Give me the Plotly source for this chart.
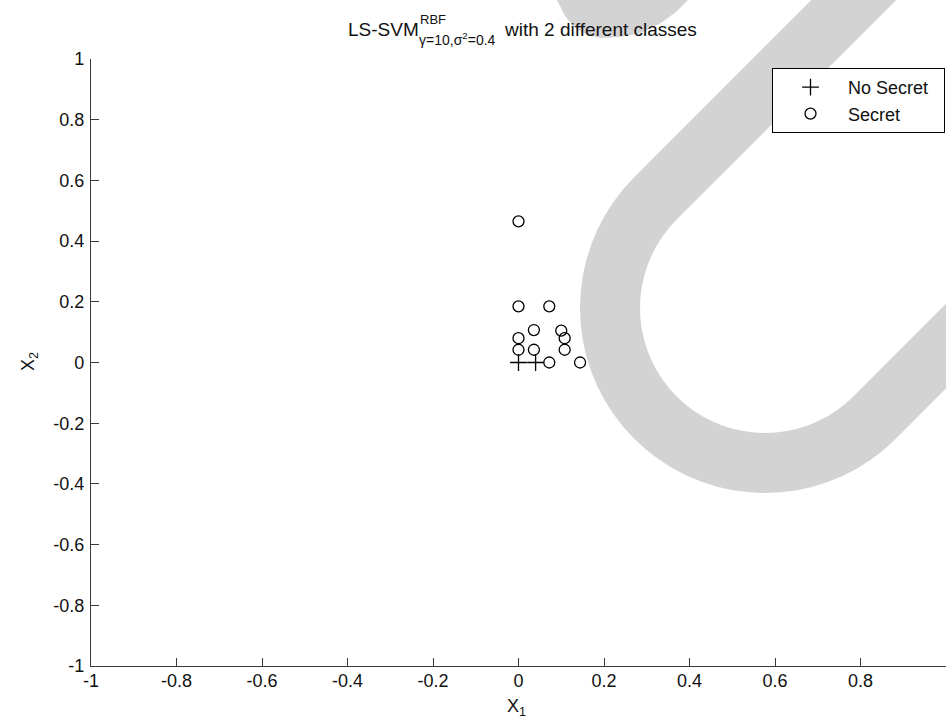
import math
import plotly.graph_objects as go

# ---------------- data ----------------
no_secret_x = [0.0, 0.04]
no_secret_y = [0.0, 0.0]

secret_x = [0.0, 0.0, 0.072, 0.036, 0.10, 0.0, 0.108, 0.0, 0.036, 0.108, 0.072, 0.144]
secret_y = [0.465, 0.185, 0.185, 0.107, 0.105, 0.08, 0.08, 0.042, 0.042, 0.042, 0.0, 0.0]

tick_vals = [-1, -0.8, -0.6, -0.4, -0.2, 0, 0.2, 0.4, 0.6, 0.8, 1]
tick_text = ["-1", "-0.8", "-0.6", "-0.4", "-0.2", "0", "0.2", "0.4", "0.6", "0.8", "1"]

legend_names = ["No Secret", "Secret"]

# ---------------- layout geometry ----------------
W, H = 946, 722
ML, MR, MT, MB = 91, 0, 59, 56
FONT = "Liberation Sans, Arial, Helvetica, sans-serif"
AXC = "#3a3a3a"
TXT = "#111111"
GRAY = "rgb(211,211,211)"
PAD = "\u00a0\u00a0"


def px(X):
    return (X - ML) / (W - ML - MR)


def py(Y):
    return (H - MB - Y) / (H - MT - MB)


def pt(X, Y):
    return f"{px(X):.5f},{py(Y):.5f}"


# watermark: thick U-shaped band plus a small bulge behind the title,
# drawn as one connected polygon (pixel geometry; joins run off-page)
cx, cy, r_out, r_in = 765, 308, 185, 125
s = math.sqrt(0.5)
poly = []
ox, oy = cx - r_out * s, cy - r_out * s
poly.append((ox + 320, oy - 320))
for k in range(0, 37):
    a = math.radians(225 - 5 * k)
    poly.append((cx + r_out * math.cos(a), cy + r_out * math.sin(a)))
ex, ey = cx + r_out * s, cy + r_out * s
poly.append((ex + 320, ey - 320))
ix, iy = cx + r_in * s, cy + r_in * s
poly.append((ix + 320, iy - 320))
for k in range(0, 37):
    a = math.radians(45 + 5 * k)
    poly.append((cx + r_in * math.cos(a), cy + r_in * math.sin(a)))
jx, jy = cx - r_in * s, cy - r_in * s
poly.append((jx + 320, jy - 320))
# off-page link to the bulge, bulge outline (right to left), off-page back
poly += [(1100, -200), (702, -200), (702, -16), (688, 0), (676, 12),
         (661, 23), (641, 33), (620, 37), (600, 38), (587, 35), (575, 28),
         (565, 16), (557, 0), (548, -16), (548, -250), (954, -250)]
wm_path = "M " + " L ".join(pt(x, y) for x, y in poly) + " Z"

fig = go.Figure()

fig.add_trace(go.Scatter(
    x=no_secret_x, y=no_secret_y, mode="markers", name=legend_names[0] + PAD,
    marker=dict(symbol="cross-thin-open", size=12, color="black",
                line=dict(color="black", width=1.3)),
))
fig.add_trace(go.Scatter(
    x=secret_x, y=secret_y, mode="markers", name=legend_names[1],
    marker=dict(symbol="circle-open", size=11, color="black",
                line=dict(color="black", width=1.3)),
))

fig.add_shape(type="path", xref="paper", yref="paper", path=wm_path,
              fillcolor=GRAY, line=dict(width=0), layer="below")

axis_common = dict(
    range=[-1, 1], tickmode="array", tickvals=tick_vals, ticktext=tick_text,
    ticks="inside", ticklen=8, tickwidth=1, tickcolor=AXC,
    showline=True, linecolor=AXC, linewidth=1.3, mirror=False,
    showgrid=False, zeroline=False, automargin=False,
    tickfont=dict(family=FONT, size=18, color=TXT),
)

fig.update_layout(
    width=W, height=H,
    margin=dict(l=ML, r=MR, t=MT, b=MB, pad=0, autoexpand=False),
    paper_bgcolor="white", plot_bgcolor="rgba(0,0,0,0)",
    font=dict(family=FONT, size=18, color=TXT),
    xaxis=dict(**axis_common, ticklabelstandoff=-2),
    yaxis=dict(**axis_common, ticklabelstandoff=2),
    legend=dict(
        x=px(772), y=py(68), xanchor="left", yanchor="top",
        bgcolor="white", bordercolor="black", borderwidth=1,
        font=dict(family=FONT, size=18, color=TXT),
        itemwidth=65, tracegroupgap=0,
    ),
    showlegend=True,
)

# title pieces (LS-SVM with stacked super/subscript) and axis labels
text_items = [
    ("LS-SVM", 421, 30, 19, "right", 0),
    ("RBF", 418, 19, 13, "left", 0),
    ("γ=10,σ<sup>2</sup>=0.4", 417, 39, 14, "left", 0),
    ("with 2 different classes", 502, 30, 19, "left", 0),
    ("X<sub>1</sub>", 516, 707, 18, "center", 0),
    ("X<sub>2</sub>", 29, 362, 18, "center", -90),
]
for txt, xpix, ypix, fs, anc, ang in text_items:
    fig.add_annotation(
        text=txt, xref="paper", yref="paper", x=px(xpix), y=py(ypix),
        xanchor=anc, yanchor="middle", showarrow=False, textangle=ang,
        bgcolor="rgba(0,0,0,0)",
        font=dict(family=FONT, size=fs, color=TXT),
    )

fig.write_html(
    "out.html",
    config={"displayModeBar": False},
    post_script="document.body.style.margin='0';document.body.style.padding='0';",
)
